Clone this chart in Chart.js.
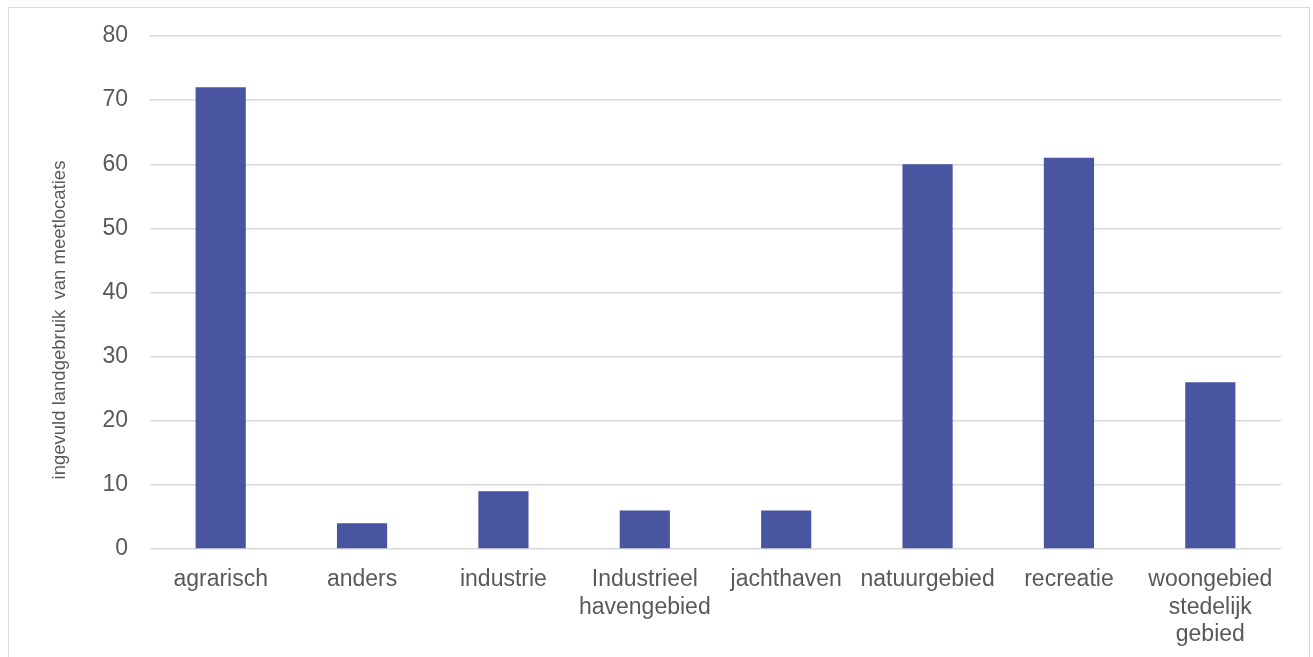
<!DOCTYPE html>
<html lang="nl">
<head>
    <meta charset="UTF-8">
    <script src="https://cdn.jsdelivr.net/npm/chart.js"></script>
    <title>Landgebruik meetlocaties</title>
    <style>
        body { margin: 0; background: #fff; }
        #frame {
            position: absolute; left: 8px; top: 7px;
            width: 1302px; height: 700px;
            border: 1px solid #d9d9d9; box-sizing: border-box;
        }
        #wrap { position: absolute; left: 0; top: 0; width: 1313px; height: 657px; }
    </style>
</head>
<body>
    <div id="frame"></div>
    <div id="wrap">
        <canvas id="myChart" width="1313" height="657"></canvas>
    </div>
    <script>
        const categories = ['agrarisch', 'anders', 'industrie', ['Industrieel', 'havengebied'],
            'jachthaven', 'natuurgebied', 'recreatie', ['woongebied', 'stedelijk', 'gebied']];
        const counts = [72, 4, 9, 6, 6, 60, 61, 26];
        const yTicks = [0, 10, 20, 30, 40, 50, 60, 70, 80];
        const yTitle = 'ingevuld landgebruik  van meetlocaties';

        const labelFont = 'Liberation Sans, Arial';

        // vertical axis title, drawn a bit below the middle of the plot like the Excel original
        const axisTitle = {
            id: 'axisTitle',
            afterDraw(chart) {
                const c = chart.ctx;
                c.save();
                c.translate(60, 320);
                c.rotate(-Math.PI / 2);
                c.font = '18.5px ' + labelFont;
                c.fillStyle = '#595959';
                c.textAlign = 'center';
                c.textBaseline = 'middle';
                c.fillText(yTitle, 0, 0);
                c.restore();
            }
        };

        const ctx = document.getElementById('myChart');
        new Chart(ctx, {
            type: 'bar',
            data: {
                labels: categories,
                datasets: [{
                    label: 'ingevuld landgebruik',
                    data: counts,
                    backgroundColor: '#4a55a2',
                    categoryPercentage: 1,
                    barPercentage: 0.355
                }]
            },
            plugins: [axisTitle],
            options: {
                responsive: false,
                animation: false,
                layout: { padding: { left: 0, right: 32, top: 36, bottom: 0 } },
                plugins: {
                    legend: { display: false },
                    tooltip: { enabled: false }
                },
                scales: {
                    x: {
                        grid: { display: false, drawTicks: false },
                        border: { display: false },
                        ticks: {
                            color: '#595959',
                            padding: 17,
                            maxRotation: 0,
                            autoSkip: false,
                            font: { family: labelFont, size: 23, lineHeight: 1.2 }
                        },
                        afterFit: (scale) => { scale.height = 108; }
                    },
                    y: {
                        min: 0,
                        max: 80,
                        afterBuildTicks: (scale) => { scale.ticks = yTicks.map(v => ({ value: v })); },
                        grid: { color: '#d9d9d9', lineWidth: 1.5, drawTicks: false },
                        border: { display: false },
                        ticks: {
                            color: '#595959',
                            padding: 22,
                            font: { family: labelFont, size: 23 }
                        },
                        afterFit: (scale) => { scale.width = 150; }
                    }
                }
            }
        });
    </script>
</body>
</html>
